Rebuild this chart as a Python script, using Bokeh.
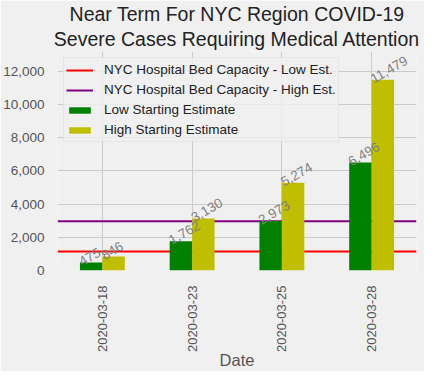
import math
from bokeh.plotting import figure
from bokeh.models import (Range1d, FixedTicker, NumeralTickFormatter, Title, Legend, ColumnDataSource)
from bokeh.embed import file_html
from bokeh.resources import INLINE
from bokeh.core.properties import value

# ---- data ----
dates = ["2020-03-18", "2020-03-23", "2020-03-25", "2020-03-28"]
low_est = [475, 1762, 2973, 6496]
high_est = [846, 3130, 5274, 11479]
bed_low = 1150
bed_high = 2970
y_ticks = [0, 2000, 4000, 6000, 8000, 10000, 12000]
title_lines = ["Near Term For NYC Region COVID-19", "Severe Cases Requiring Medical Attention"]

FONT = "Liberation Sans"
BG = "#f0f0f0"
GRID = "#cbcbcb"

idx = list(range(len(dates)))
bar_w = 0.25

p = figure(width=424, height=371, output_backend="svg", toolbar_location=None,
           x_range=Range1d(-0.5, len(dates) - 0.5), y_range=Range1d(0, 13180),
           min_border_left=54, min_border_right=8, min_border_top=50, min_border_bottom=101,
           background_fill_color=BG, border_fill_color=BG, outline_line_color=None)

# second line first (closest to plot), then first line above it
p.add_layout(Title(text=title_lines[1], align="center",
                   text_font=FONT, text_font_size="19.5px", text_font_style="normal",
                   text_line_height=0.85, text_color="#222222", standoff=3), "above")
p.add_layout(Title(text=title_lines[0], align="center",
                   text_font=FONT, text_font_size="19.5px", text_font_style="normal",
                   text_line_height=0.85, text_color="#222222", standoff=0), "above")

# capacity lines
r_low = p.line(x=[-0.5, len(dates) - 0.5], y=[bed_low, bed_low], line_color="#ff0000", line_width=2)
r_high = p.line(x=[-0.5, len(dates) - 0.5], y=[bed_high, bed_high], line_color="#800080", line_width=2)

src = ColumnDataSource(dict(
    xl=[i - bar_w / 2 for i in idx], xh=[i + bar_w / 2 for i in idx],
    low=low_est, high=high_est,
    xl_left=[i - bar_w for i in idx], xh_left=[i for i in idx],
    low_lbl=[f"{v:,}" for v in low_est], high_lbl=[f"{v:,}" for v in high_est]))

r_g = p.vbar(x="xl", top="low", width=bar_w, source=src, fill_color="#008000", line_color=None)
r_y = p.vbar(x="xh", top="high", width=bar_w, source=src, fill_color="#bfbf00", line_color=None)

for xcol, ycol, tcol in [("xl_left", "low", "low_lbl"), ("xh_left", "high", "high_lbl")]:
    p.text(x=xcol, y=ycol, text=tcol, source=src, angle=math.pi / 6,
           text_align="left", text_baseline="alphabetic",
           text_font=value(FONT), text_font_size="13.5px", text_color="#808080")

# axes
p.xaxis.ticker = FixedTicker(ticks=idx)
p.xaxis.major_label_overrides = {i: d for i, d in zip(idx, dates)}
p.xaxis.major_label_orientation = math.pi / 2
p.xaxis.axis_label = "Date"
p.yaxis.ticker = FixedTicker(ticks=y_ticks)
p.yaxis.formatter = NumeralTickFormatter(format="0,0")
for ax in (p.xaxis, p.yaxis):
    ax.axis_line_color = None
    ax.major_tick_line_color = None
    ax.minor_tick_line_color = None
    ax.major_label_text_font = FONT
    ax.major_label_text_font_size = "13.5px"
    ax.major_label_text_color = "#555555"
    ax.axis_label_text_font = FONT
    ax.axis_label_text_font_size = "16.5px"
    ax.axis_label_text_font_style = "normal"
    ax.axis_label_text_color = "#555555"
p.xaxis.major_label_text_font_size = "13px"
p.xaxis.major_label_standoff = 9
p.xaxis.axis_label_standoff = -4
p.yaxis.major_label_standoff = 7

p.xgrid.grid_line_color = GRID
p.ygrid.grid_line_color = GRID

legend = Legend(items=[("NYC Hospital Bed Capacity - Low Est.", [r_low]),
                       ("NYC Hospital Bed Capacity - High Est.", [r_high]),
                       ("Low Starting Estimate", [r_g]),
                       ("High Starting Estimate", [r_y])],
                location="top_left", margin=6, padding=2, spacing=1,
                glyph_width=27, glyph_height=8, label_height=19, label_standoff=11,
                label_text_font=FONT, label_text_font_size="13.5px", label_text_color="#222222",
                background_fill_color=BG, background_fill_alpha=0.8,
                border_line_color="#dcdcdc", border_line_width=1)
p.add_layout(legend)

open("out.html", "w").write(file_html(p, INLINE))
